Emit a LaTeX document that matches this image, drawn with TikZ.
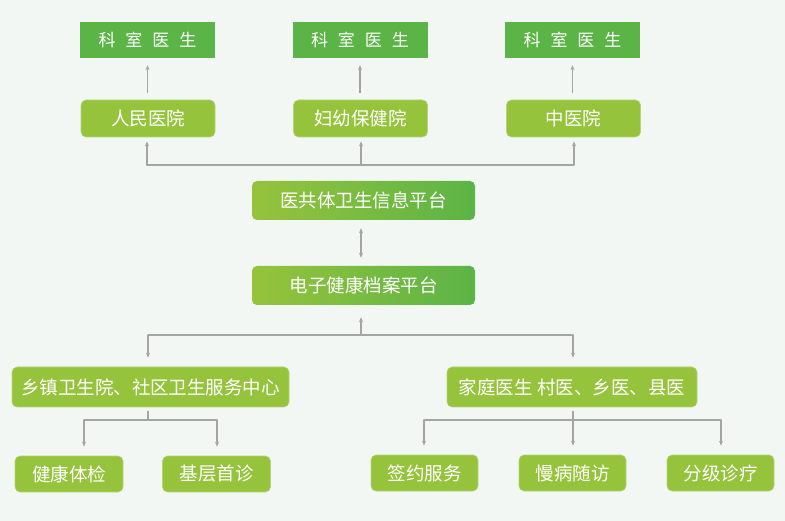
\documentclass[tikz,border=0pt]{standalone}
\usepackage{fontspec}
\newfontfamily\cjk{Noto Sans CJK SC}
\usetikzlibrary{arrows.meta}
\definecolor{bgcol}{HTML}{F2F7F4}
\definecolor{dkgreen}{HTML}{5BB446}
\definecolor{ltgreen}{HTML}{96C33C}
\definecolor{linegray}{HTML}{A5A5A5}
\tikzset{
  deptbox/.style={fill=dkgreen,text=white,minimum width=135pt,minimum height=36pt,inner sep=0pt,font=\cjk\fontsize{17}{20}\selectfont},
  hospbox/.style={fill=ltgreen,draw=ltgreen!70!white,line width=0.6pt,rounded corners=5pt,text=white,minimum width=134pt,minimum height=37pt,inner sep=0pt,font=\cjk\fontsize{18.5}{20}\selectfont},
  platbox/.style={left color=ltgreen,right color=dkgreen,rounded corners=5pt,text=white,minimum width=223pt,minimum height=39pt,inner sep=0pt,font=\cjk\fontsize{18.5}{20}\selectfont},
  busline/.style={draw=linegray,line width=1.2pt},
  conn/.style={busline,-{Stealth[length=5pt,width=4pt]}},
}
\begin{document}
\begin{tikzpicture}[x=1pt,y=-1pt,line cap=round,line join=round]
		\fill[bgcol] (0,0) rectangle (785,521);
		\useasboundingbox (0,0) rectangle (785,521);
		%%%%%%%%%%%%%%% N O D E S %%%%%%%%%%%%%%%%
		%departments
		\node[deptbox] (ks1) at (147.5,40) {科\hspace{10pt}室\hspace{10pt}医\hspace{10pt}生};
		\node[deptbox] (ks2) at (360,40) {科\hspace{10pt}室\hspace{10pt}医\hspace{10pt}生};
		\node[deptbox] (ks3) at (572.5,40) {科\hspace{10pt}室\hspace{10pt}医\hspace{10pt}生};
		%hospitals
		\node[hospbox] (rm) at (148,118.5) {人民医院};
		\node[hospbox] (fy) at (360.5,118.5) {妇幼保健院};
		\node[hospbox] (zy) at (573.5,118.5) {中医院};
		%platforms
		\node[platbox] (ygt) at (363.5,200.5) {医共体卫生信息平台};
		\node[platbox] (dzjk) at (363.5,285.5) {电子健康档案平台};
		%level 3
		\node[hospbox,minimum width=277pt,minimum height=40pt] (xz) at (150.5,387) {乡镇卫生院、社区卫生服务中心};
		\node[hospbox,minimum width=250pt,minimum height=40pt] (jt) at (572,387) {家庭医生 村医、乡医、县医};
		%services
		\node[hospbox,minimum width=108pt,minimum height=36pt] (tj) at (69,474) {健康体检};
		\node[hospbox,minimum width=108pt,minimum height=36pt] (sz) at (216.5,474) {基层首诊};
		\node[hospbox,minimum width=107pt,minimum height=36pt] (qy) at (424.5,473) {签约服务};
		\node[hospbox,minimum width=107pt,minimum height=36pt] (mb) at (572.5,473) {慢病随访};
		\node[hospbox,minimum width=107pt,minimum height=36pt] (fj) at (720.5,473) {分级诊疗};
		%%%%%%%%%%%%%%% C O N N E C T O R S %%%%%%%%%%%%%%%%
		%hospitals -> departments
		\draw[conn,shorten <=7pt,shorten >=7pt] (rm.north -| ks1) -- (ks1.south);
		\draw[conn,shorten <=7pt,shorten >=7pt] (fy.north -| ks2) -- (ks2.south);
		\draw[conn,shorten <=7pt,shorten >=7pt] (zy.north -| ks3) -- (ks3.south);
		%bus 1
		\coordinate (busL) at (147,165);
		\coordinate (busM) at (361,165);
		\coordinate (busR) at (574,165);
		\draw[busline] (busL) -- (busR);
		\draw[conn,shorten >=4pt] (busL) -- (busL |- rm.south);
		\draw[conn,shorten >=4pt] (busM) -- (busM |- fy.south);
		\draw[conn,shorten >=4pt] (busR) -- (busR |- zy.south);
		%platforms
		\draw[conn,{Stealth[length=5pt,width=4pt]}-{Stealth[length=5pt,width=4pt]},shorten <=8pt,shorten >=8pt] (busM |- ygt.south) -- (busM |- dzjk.north);
		%bus 2
		\coordinate (bus2L) at (148,335);
		\coordinate (bus2M) at (361,335);
		\coordinate (bus2R) at (573,335);
		\draw[busline] (bus2L) -- (bus2R);
		\draw[conn,shorten >=12pt] (bus2M) -- (bus2M |- dzjk.south);
		\draw[conn,shorten >=9pt] (bus2L) -- (bus2L |- xz.north);
		\draw[conn,shorten >=9pt] (bus2R) -- (bus2R |- jt.north);
		%bus 3 left
		\coordinate (xzfork) at (148,420);
		\coordinate (bus3L) at (84,420);
		\coordinate (bus3R) at (217,420);
		\draw[busline,shorten <=4pt] (xzfork |- xz.south) -- (xzfork);
		\draw[busline] (bus3L) -- (bus3R);
		\draw[conn,shorten >=9pt] (bus3L) -- (bus3L |- tj.north);
		\draw[conn,shorten >=9pt] (bus3R) -- (bus3R |- sz.north);
		%bus 3 right
		\coordinate (jtfork) at (573,420);
		\coordinate (bus4L) at (424,420);
		\coordinate (bus4R) at (721,420);
		\draw[busline] (bus4L) -- (bus4R);
		\draw[conn,shorten <=4pt,shorten >=9pt] (jtfork |- jt.south) -- (jtfork |- mb.north);
		\draw[conn,shorten >=9pt] (bus4L) -- (bus4L |- qy.north);
		\draw[conn,shorten >=9pt] (bus4R) -- (bus4R |- fj.north);
\end{tikzpicture}
\end{document}
